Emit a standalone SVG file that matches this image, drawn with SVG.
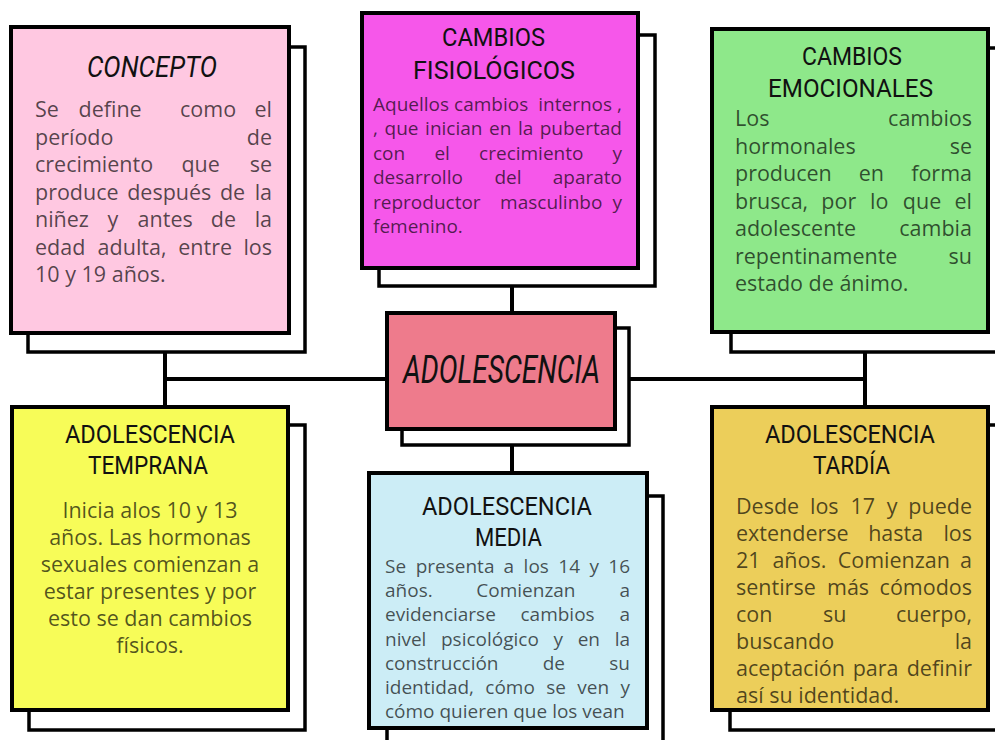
<svg xmlns="http://www.w3.org/2000/svg" width="995" height="740" viewBox="0 0 995 740">
<style>
.s{fill:#fff;stroke:#000;stroke-width:3.5}
.f{stroke:#000;stroke-width:4}
.ln{stroke:#000;stroke-width:4;fill:none}
.t{font-family:Roboto,"DejaVu Sans",sans-serif;font-size:26.5px;fill:#111}
.i{font-style:italic}
.b{font-family:"Open Sans","Liberation Sans",sans-serif;font-size:21.5px;fill:#000;fill-opacity:.68}
.m{font-size:19px}
.e{text-anchor:end}
.c{text-anchor:middle}
</style>
<rect width="995" height="740" fill="#fff"/>
<g id="connectors">
<path class="ln" d="M165,352V407M165,379H388M630,379H866M865,352V407M512,286V313M512,445V473"/>
</g>
<g id="concepto">
<rect class="s" x="28" y="47" width="277" height="305"/>
<rect class="f" x="11" y="27" width="278" height="306" fill="#FFC8E1"/>
<text class="t i" x="87" y="77" textLength="130" lengthAdjust="spacingAndGlyphs" style="font-size:29px">CONCEPTO</text>
<text class="b" y="117"><tspan x="35">Se</tspan><tspan x="78.5">define</tspan><tspan x="180">como</tspan></text><text class="b e" x="272" y="117">el</text>
<text class="b" x="35" y="144.5">período</text><text class="b e" x="272" y="144.5">de</text>
<text class="b" y="172"><tspan x="35">crecimiento</tspan><tspan x="181.4">que</tspan></text><text class="b e" x="272" y="172">se</text>
<text class="b" y="199.5"><tspan x="35">produce</tspan><tspan x="127.2">después</tspan><tspan x="219.9">de</tspan></text><text class="b e" x="272" y="199.5">la</text>
<text class="b" y="227"><tspan x="35">niñez</tspan><tspan x="107.5">y</tspan><tspan x="137.6">antes</tspan><tspan x="210.8">de</tspan></text><text class="b e" x="272" y="227">la</text>
<text class="b" y="254.5"><tspan x="35">edad</tspan><tspan x="97.6">adulta,</tspan><tspan x="178.3">entre</tspan></text><text class="b e" x="272" y="254.5">los</text>
<text class="b" x="35" y="282">10 y 19 años.</text>
</g>
<g id="fisiologicos">
<rect class="s" x="379" y="35" width="276" height="251"/>
<rect class="f" x="362" y="13" width="276" height="255" fill="#F657EA"/>
<text class="t" x="442" y="46" textLength="103" lengthAdjust="spacingAndGlyphs">CAMBIOS</text>
<text class="t" x="413" y="79" textLength="162" lengthAdjust="spacingAndGlyphs">FISIOLÓGICOS</text>
<text class="b m" y="111"><tspan x="373">Aquellos</tspan><tspan x="454.1">cambios</tspan><tspan x="538.3">internos</tspan></text><text class="b m e" x="622" y="111">,</text>
<text class="b m" y="135.4"><tspan x="373">,</tspan><tspan x="384.6">que</tspan><tspan x="425.1">inician</tspan><tspan x="489">en</tspan><tspan x="517.9">la</tspan></text><text class="b m e" x="622" y="135.4">pubertad</text>
<text class="b m" y="159.8"><tspan x="373">con</tspan><tspan x="434.4">el</tspan><tspan x="479.1">crecimiento</tspan></text><text class="b m e" x="622" y="159.8">y</text>
<text class="b m" y="184.2"><tspan x="373">desarrollo</tspan><tspan x="494.4">del</tspan></text><text class="b m e" x="622" y="184.2">aparato</text>
<text class="b m" y="208.6"><tspan x="373">reproductor</tspan><tspan x="500.1">masculinbo</tspan></text><text class="b m e" x="622" y="208.6">y</text>
<text class="b m" x="373" y="233">femenino.</text>
</g>
<g id="emocionales">
<rect class="s" x="731" y="48" width="280" height="304"/>
<rect class="f" x="712" y="29" width="276" height="303" fill="#8EE88A"/>
<text class="t" x="802" y="65" textLength="100" lengthAdjust="spacingAndGlyphs">CAMBIOS</text>
<text class="t" x="768" y="97" textLength="165" lengthAdjust="spacingAndGlyphs">EMOCIONALES</text>
<text class="b" x="735" y="126">Los</text><text class="b e" x="972" y="126">cambios</text>
<text class="b" x="735" y="153.5">hormonales</text><text class="b e" x="972" y="153.5">se</text>
<text class="b" y="181"><tspan x="735">producen</tspan><tspan x="858.7">en</tspan></text><text class="b e" x="972" y="181">forma</text>
<text class="b" y="208.5"><tspan x="735">brusca,</tspan><tspan x="821.3">por</tspan><tspan x="870.1">lo</tspan><tspan x="902.8">que</tspan></text><text class="b e" x="972" y="208.5">el</text>
<text class="b" x="735" y="236">adolescente</text><text class="b e" x="972" y="236">cambia</text>
<text class="b" x="735" y="263.5">repentinamente</text><text class="b e" x="972" y="263.5">su</text>
<text class="b" x="735" y="291">estado de ánimo.</text>
</g>
<g id="adolescencia">
<rect class="s" x="402" y="328" width="227" height="117"/>
<rect class="f" x="387" y="313" width="228" height="116" fill="#EE7B8C"/>
<text class="t i" x="403" y="383" textLength="197" lengthAdjust="spacingAndGlyphs" style="font-size:38px">ADOLESCENCIA</text>
</g>
<g id="temprana">
<rect class="s" x="29" y="425" width="276" height="305"/>
<rect class="f" x="12" y="407" width="276" height="303" fill="#F7FC58"/>
<text class="t" x="65" y="443" textLength="170" lengthAdjust="spacingAndGlyphs">ADOLESCENCIA</text>
<text class="t" x="88" y="474" textLength="120" lengthAdjust="spacingAndGlyphs">TEMPRANA</text>
<text class="b c" x="150" y="518">Inicia alos 10 y 13</text>
<text class="b c" x="150" y="545">años. Las hormonas</text>
<text class="b c" x="150" y="572">sexuales comienzan a</text>
<text class="b c" x="150" y="599">estar presentes y por</text>
<text class="b c" x="150" y="626">esto se dan cambios</text>
<text class="b c" x="150" y="653">físicos.</text>
</g>
<g id="media">
<rect class="s" x="387" y="496" width="276" height="270"/>
<rect class="f" x="369" y="473" width="278" height="255" fill="#CCEDF6"/>
<text class="t" x="422" y="515" textLength="170" lengthAdjust="spacingAndGlyphs">ADOLESCENCIA</text>
<text class="t" x="475" y="546" textLength="67" lengthAdjust="spacingAndGlyphs">MEDIA</text>
<text class="b m" y="573"><tspan x="385">Se</tspan><tspan x="415.7">presenta</tspan><tspan x="503.6">a</tspan><tspan x="523.6">los</tspan><tspan x="558.3">14</tspan><tspan x="589.4">y</tspan></text><text class="b m e" x="630" y="573">16</text>
<text class="b m" y="597"><tspan x="385">años.</tspan><tspan x="476.3">Comienzan</tspan></text><text class="b m e" x="630" y="597">a</text>
<text class="b m" y="621"><tspan x="385">evidenciarse</tspan><tspan x="520.5">cambios</tspan></text><text class="b m e" x="630" y="621">a</text>
<text class="b m" y="645.5"><tspan x="385">nivel</tspan><tspan x="441">psicológico</tspan><tspan x="553.6">y</tspan><tspan x="577.7">en</tspan></text><text class="b m e" x="630" y="645.5">la</text>
<text class="b m" y="670"><tspan x="385">construcción</tspan><tspan x="542.7">de</tspan></text><text class="b m e" x="630" y="670">su</text>
<text class="b m" y="694"><tspan x="385">identidad,</tspan><tspan x="485.3">cómo</tspan><tspan x="546.3">se</tspan><tspan x="577.3">ven</tspan></text><text class="b m e" x="630" y="694">y</text>
<text class="b m" x="385" y="718">cómo quieren que los vean</text>
</g>
<g id="tardia">
<rect class="s" x="730" y="425" width="281" height="305"/>
<rect class="f" x="712" y="407" width="276" height="303" fill="#ECCE5A"/>
<text class="t" x="765" y="443" textLength="170" lengthAdjust="spacingAndGlyphs">ADOLESCENCIA</text>
<text class="t" x="813" y="474" textLength="77" lengthAdjust="spacingAndGlyphs">TARDÍA</text>
<text class="b" y="514"><tspan x="736">Desde</tspan><tspan x="810">los</tspan><tspan x="850.4">17</tspan><tspan x="886.8">y</tspan></text><text class="b e" x="972" y="514">puede</text>
<text class="b" y="541"><tspan x="736">extenderse</tspan><tspan x="868.2">hasta</tspan></text><text class="b e" x="972" y="541">los</text>
<text class="b" y="568"><tspan x="736">21</tspan><tspan x="772.4">años.</tspan><tspan x="837.7">Comienzan</tspan></text><text class="b e" x="972" y="568">a</text>
<text class="b" y="595"><tspan x="736">sentirse</tspan><tspan x="827">más</tspan></text><text class="b e" x="972" y="595">cómodos</text>
<text class="b" y="622"><tspan x="736">con</tspan><tspan x="823.1">su</tspan></text><text class="b e" x="972" y="622">cuerpo,</text>
<text class="b" x="736" y="649">buscando</text><text class="b e" x="972" y="649">la</text>
<text class="b" y="676"><tspan x="736">aceptación</tspan><tspan x="852.7">para</tspan></text><text class="b e" x="972" y="676">definir</text>
<text class="b" x="736" y="703">así su identidad.</text>
</g>
</svg>
